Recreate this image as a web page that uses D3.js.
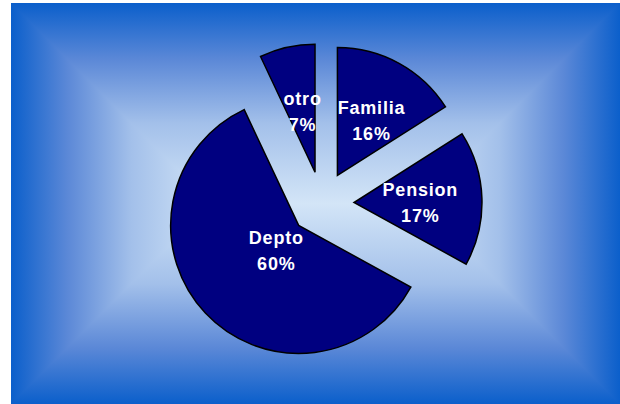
<!DOCTYPE html>
<html>
<head>
<meta charset="utf-8">
<script src="https://cdn.jsdelivr.net/npm/d3@7"></script>
<style>
  html, body { margin: 0; padding: 0; background: #ffffff; }
  svg { display: block; }
</style>
</head>
<body>
<svg id="chart" width="620" height="404"></svg>
<script>
// Housing situation — share of respondents by category
const categories = ["Familia", "Pension", "Depto", "otro"];
const values = [16, 17, 60, 7];

const W = 620, H = 404;
const svg = d3.select("#chart");
const defs = svg.append("defs");

// Plot panel with a rectangular "from centre" gradient
const panel = { x0: 11, y0: 3, x1: 620, y1: 404 };
const half = (panel.y1 - panel.y0) / 2;
const cy = panel.y0 + half;
const cxL = panel.x0 + half, cxR = panel.x1 - half;

const stops = [
  [0, "#0b5fcb"], [0.28, "#5b88d7"], [0.6, "#a3c0ea"], [1, "#d3e5f7"]
];
function grad(id, x1, y1, x2, y2) {
  const g = defs.append("linearGradient").attr("id", id)
    .attr("gradientUnits", "userSpaceOnUse")
    .attr("x1", x1).attr("y1", y1).attr("x2", x2).attr("y2", y2);
  stops.forEach(([o, c]) => g.append("stop").attr("offset", o).attr("stop-color", c));
}
grad("gTop", 0, panel.y0, 0, cy);
grad("gBot", 0, panel.y1, 0, cy);
grad("gLeft", panel.x0, 0, cxL, 0);
grad("gRight", panel.x1, 0, cxR, 0);

const bg = svg.append("g");
bg.append("clipPath").attr("id", "panelClip").append("rect")
  .attr("x", panel.x0).attr("y", panel.y0)
  .attr("width", panel.x1 - panel.x0).attr("height", panel.y1 - panel.y0);
bg.attr("clip-path", "url(#panelClip)");
const poly = pts => pts.map(p => p.join(",")).join(" ");
const quads = [
  ["gTop", [[panel.x0, panel.y0], [panel.x1, panel.y0], [cxR, cy], [cxL, cy]]],
  ["gBot", [[panel.x0, panel.y1], [panel.x1, panel.y1], [cxR, cy], [cxL, cy]]],
  ["gLeft", [[panel.x0, panel.y0], [cxL, cy], [panel.x0, panel.y1]]],
  ["gRight", [[panel.x1, panel.y0], [cxR, cy], [panel.x1, panel.y1]]]
];
quads.forEach(([id, pts]) => {
  bg.append("polygon")
    .attr("points", poly(pts))
    .attr("fill", `url(#${id})`)
    .attr("stroke", `url(#${id})`)
    .attr("stroke-width", 1.2)
    .attr("stroke-linejoin", "round");
});

// Exploded pie
const center = [322, 203.5];
const radius = 128;
const explode = 32;

const data = categories.map((c, i) => ({ category: c, value: values[i] }));
const total = d3.sum(values);
const pie = d3.pie().sort(null).value(d => d.value).startAngle(0).endAngle(2 * Math.PI);
const arc = d3.arc().innerRadius(0).outerRadius(radius);
const arcs = pie(data);

// label distance from the slice tip, as a fraction of the radius
const labelFrac = { Familia: 0.47, Pension: 0.52, Depto: 0.29, otro: 0.445 };
const labelTurn = { Familia: 0.1, Pension: 0.11, Depto: -0.17, otro: 0.0 };

const pieG = svg.append("g").attr("transform", `translate(${center})`);

const slice = pieG.selectAll("g.slice").data(arcs).join("g")
  .attr("class", "slice")
  .attr("transform", d => {
    const a = (d.startAngle + d.endAngle) / 2;
    return `translate(${explode * Math.sin(a)},${-explode * Math.cos(a)})`;
  });

slice.append("path")
  .attr("d", arc)
  .attr("fill", "#000080")
  .attr("stroke", "#000000")
  .attr("stroke-width", 1.5)
  .attr("stroke-linejoin", "miter");

const pct = d3.format(".0%");
const lbl = slice.append("text")
  .attr("transform", d => {
    const a = (d.startAngle + d.endAngle) / 2 + labelTurn[d.data.category];
    const r = radius * labelFrac[d.data.category];
    return `translate(${r * Math.sin(a)},${-r * Math.cos(a)})`;
  })
  .attr("text-anchor", "middle")
  .attr("fill", "#ffffff")
  .attr("font-family", "'Liberation Sans', Arial, sans-serif")
  .attr("font-weight", "bold")
  .attr("font-size", 18)
  .attr("letter-spacing", 0.8);

lbl.append("tspan").attr("x", 0).attr("y", -11.5).text(d => d.data.category);
lbl.append("tspan").attr("x", 0).attr("y", 14.5).text(d => pct(d.data.value / total));
</script>
</body>
</html>
